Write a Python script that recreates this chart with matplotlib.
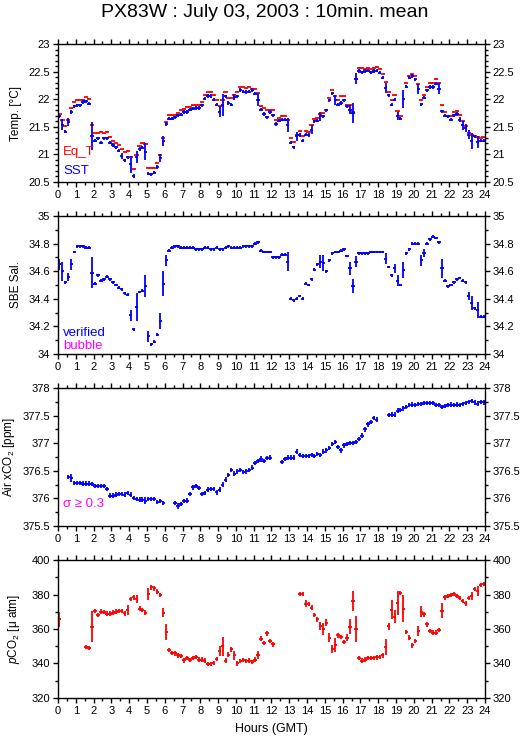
import numpy as np
import matplotlib
matplotlib.use('Agg')
import matplotlib.pyplot as plt
from matplotlib.ticker import MultipleLocator, FormatStrFormatter

plt.rcParams['font.family'] = ['Liberation Sans', 'DejaVu Sans']
plt.rcParams['mathtext.fontset'] = 'custom'
plt.rcParams['mathtext.rm'] = 'Liberation Sans'
plt.rcParams['mathtext.it'] = 'Liberation Sans:italic'

nan = np.nan

# 10 minute means, 144 bins over the day (GMT)
bin_minutes = 10

sst = [21.69, 21.54, 21.41, 21.59, 21.77, 21.87,
       21.89, 21.89, 21.95, 21.96, 21.92, 21.33,
       21.25, 21.29, 21.21, 21.29, 21.29, 21.21,
       21.17, 21.13, 21.07, 20.97, 20.89, 20.95,
       20.82, 20.61, 20.95, 21.10, 21.12, 21.05,
       20.65, 20.64, 20.67, 20.77, 20.94, 21.25,
       21.55, 21.65, 21.65, 21.67, 21.71, 21.72,
       21.77, 21.77, 21.81, 21.83, 21.84, 21.84,
       21.89, 22.01, 22.06, 22.06, 21.99, 21.90,
       21.77, 21.90, 22.05, 21.93, 21.90, 22.04,
       22.05, 22.17, 22.14, 22.13, 22.14, 22.17,
       22.10, 21.99, 21.81, 21.73, 21.67, 21.77,
       21.71, 21.55, 21.61, 21.63, 21.63, 21.53,
       21.21, 21.13, 21.33, 21.35, 21.25, 21.36,
       21.35, 21.45, 21.60, 21.61, 21.69, 21.69,
       21.80, 21.98, 22.11, 21.98, 21.90, 21.93,
       21.98, 21.87, 21.81, 21.75, 22.37, 22.51,
       22.49, 22.51, 22.52, 22.49, 22.51, 22.52,
       22.48, 22.39, 22.20, 22.07, 21.90, 21.99,
       21.69, 21.65, 22.01, 22.23, 22.39, 22.42,
       22.36, 22.19, 21.91, 22.03, 22.16, 22.22,
       22.22, 22.28, 22.19, 21.78, 21.70, 21.69,
       21.63, 21.71, 21.73, 21.63, 21.53, 21.48,
       21.36, 21.24, 21.33, 21.23, 21.25, 21.25]
sst_err = {1: 0.1, 3: 0.07, 11: 0.25, 21: 0.06, 24: 0.16, 26: 0.11, 29: 0.15,
           34: 0.07, 35: 0.09, 54: 0.1, 55: 0.2, 59: 0.05, 67: 0.12, 77: 0.13,
           80: 0.08, 85: 0.08, 88: 0.08, 93: 0.09, 98: 0.08, 99: 0.18, 100: 0.1,
           110: 0.09, 114: 0.07, 116: 0.16, 121: 0.09, 128: 0.1, 135: 0.05,
           136: 0.08, 137: 0.08, 138: 0.08, 139: 0.15, 141: 0.11}

eq_t = [21.73, 21.63, 21.51, 21.63, 21.84, 21.95,
        21.98, 21.98, 21.99, 22.04, 22.01, 21.53,
        21.39, 21.39, 21.41, 21.39, 21.41, 21.32,
        21.25, 21.21, 21.17, 21.09, 21.05, 21.07,
        20.95, 20.73, 20.99, 21.15, 21.20, 21.18,
        20.76, 20.76, 20.76, 20.85, 20.99, 21.30,
        21.59, 21.71, 21.71, 21.72, 21.75, 21.80,
        21.83, 21.86, 21.86, 21.89, 21.89, 21.89,
        21.95, 22.07, 22.13, 22.14, 22.07, 21.99,
        21.87, 21.99, 22.13, 22.02, 22.02, 22.07,
        22.14, 22.22, 22.22, 22.20, 22.22, 22.19,
        22.19, 22.11, 21.87, 21.84, 21.81, 21.81,
        21.80, 21.63, 21.66, 21.70, 21.70, 21.63,
        21.30, 21.23, 21.36, 21.42, 21.33, 21.42,
        21.41, 21.53, 21.64, 21.66, 21.74, 21.75,
        21.81, 22.02, 22.17, 22.05, 21.99, 22.05,
        22.05, 21.89, 21.89, 21.77, 22.37, 22.57,
        22.57, 22.55, 22.57, 22.55, 22.57, 22.58,
        22.55, 22.46, 22.31, 22.14, 21.98, 22.07,
        21.78, 21.70, nan, 22.30, 22.43, 22.46,
        22.42, 22.28, 21.99, 22.08, 22.22, 22.30,
        22.30, 22.36, 22.30, 21.89, 21.77, 21.69,
        21.69, 21.77, 21.78, 21.72, 21.61, 21.51,
        21.39, 21.35, 21.33, 21.31, 21.30, 21.31]
eq_t_err = {}

sal = [34.65, 34.60, 34.52, 34.56, 34.65, 34.74,
       34.78, 34.78, 34.78, 34.77, 34.77, 34.59,
       34.51, 34.57, 34.53, 34.54, 34.56, 34.54,
       34.52, 34.50, 34.48, 34.47, 34.44, 34.43,
       34.28, 34.18, 34.34, 34.45, 34.46, 34.49,
       34.13, 34.07, 34.09, 34.14, 34.24, 34.51,
       34.68, 34.75, 34.77, 34.78, 34.78, 34.77,
       34.77, 34.77, 34.77, 34.77, 34.76, 34.76,
       34.76, 34.77, 34.77, 34.76, 34.76, 34.77,
       34.76, 34.76, 34.77, 34.78, 34.77, 34.77,
       34.77, 34.77, 34.78, 34.78, 34.78, 34.78,
       34.80, 34.81, 34.75, 34.74, 34.74, 34.74,
       34.70, 34.70, 34.70, 34.72, 34.72, 34.67,
       34.40, 34.39, 34.40, 34.42, 34.40, 34.51,
       34.50, 34.54, 34.61, 34.65, 34.67, 34.66,
       34.60, 34.68, 34.73, 34.74, 34.74, 34.75,
       34.76, 34.71, 34.62, 34.49, 34.67, 34.73,
       34.73, 34.73, 34.73, 34.74, 34.74, 34.74,
       34.74, 34.74, 34.69, 34.63, 34.57, 34.62,
       34.53, 34.50, 34.61, 34.73, 34.76, 34.80,
       34.80, 34.80, 34.68, 34.73, 34.80, 34.83,
       34.85, 34.84, 34.81, 34.62, 34.53, 34.49,
       34.50, 34.52, 34.54, 34.55, 34.53, 34.52,
       34.42, 34.37, 34.33, 34.32, 34.27, 34.27]
sal_err = {0: 0.04, 1: 0.07, 3: 0.03, 4: 0.04, 11: 0.11, 24: 0.04, 26: 0.1,
           29: 0.08, 30: 0.04, 34: 0.06, 35: 0.09, 36: 0.04, 77: 0.07, 88: 0.05,
           89: 0.06, 98: 0.05, 99: 0.05, 100: 0.04, 110: 0.04, 113: 0.03,
           114: 0.04, 116: 0.06, 122: 0.04, 123: 0.03, 129: 0.07, 138: 0.03,
           139: 0.05, 141: 0.06}

xco2 = [nan, nan, nan, 376.39, 376.37, 376.28,
        376.28, 376.28, 376.27, 376.27, 376.27, 376.26,
        376.23, 376.23, 376.23, 376.22, 376.17, 376.05,
        376.05, 376.07, 376.08, 376.08, 376.07, 376.10,
        376.07, 376.01, 375.99, 375.98, 375.98, 375.96,
        375.99, 375.99, 375.99, 375.93, 375.95, 375.92,
        nan, nan, nan, 375.92, 375.86, 375.90,
        375.95, 375.96, 376.08, 376.20, 376.22, 376.19,
        376.08, 376.10, 376.16, 376.17, 376.17, 376.11,
        376.16, 376.25, 376.34, 376.42, 376.52, 376.45,
        376.49, 376.51, 376.48, 376.49, 376.52, 376.56,
        376.64, 376.68, 376.71, 376.68, 376.73, 376.74,
        nan, nan, nan, 376.66, 376.71, 376.74,
        376.74, 376.74, 376.85, 376.79, 376.77, 376.77,
        376.77, 376.79, 376.77, 376.81, 376.79, 376.85,
        376.87, 376.91, 376.99, 377.02, 376.93, 376.87,
        376.96, 376.99, 377.00, 377.00, 377.02, 377.08,
        377.14, 377.25, 377.34, 377.38, 377.46, 377.43,
        nan, nan, nan, 377.51, 377.52, 377.52,
        377.59, 377.60, 377.63, 377.66, 377.69, 377.70,
        377.69, 377.71, 377.71, 377.73, 377.73, 377.73,
        377.73, 377.69, 377.69, 377.66, 377.68, 377.69,
        377.70, 377.69, 377.70, 377.69, 377.71, 377.73,
        377.75, 377.77, 377.74, 377.72, 377.75, 377.74]
xco2_err = {4: 0.07, 29: 0.06, 40: 0.06, 68: 0.05}

pco2 = [365.6, nan, nan, nan, nan, nan,
        nan, nan, nan, 349.5, 349.1, 361.4,
        370.5, 368.0, 370.1, 369.9, 368.9, 368.9,
        369.5, 370.1, 370.5, 370.5, 369.1, 370.9,
        377.3, 378.3, 377.3, 371.8, 370.9, 369.5,
        380.2, 384.1, 383.5, 381.7, 379.6, 369.5,
        358.4, 347.8, 346.2, 345.8, 344.7, 344.3,
        341.9, 343.3, 341.9, 343.3, 343.7, 342.3,
        342.3, 341.6, 339.8, 339.8, 340.4, 342.7,
        347.2, 350.1, 341.7, 345.2, 348.2, 344.7,
        340.0, 341.4, 341.9, 341.4, 341.7, 340.8,
        342.3, 344.7, 354.4, 352.0, 357.5, 353.0,
        351.1, nan, nan, nan, nan, nan,
        nan, nan, nan, 380.2, 380.2, 374.6,
        374.4, 372.4, 368.0, 365.6, 361.7, 359.8,
        363.7, 355.0, 348.5, 350.5, 356.3, 355.5,
        352.4, 355.0, 361.4, 376.3, 360.2, 343.3,
        341.7, 342.3, 343.3, 343.3, 343.3, 343.5,
        343.9, 344.7, 349.5, 361.7, 371.1, 367.2,
        375.0, 381.0, 371.8, 358.3, 355.0, 350.5,
        353.0, 358.8, 370.1, 368.5, 362.7, 358.8,
        357.9, 357.9, 359.4, 370.5, 378.3, 379.2,
        379.8, 380.2, 379.2, 377.9, 376.3, 374.8,
        377.9, 379.2, 383.1, 382.1, 385.4, 386.2]
pco2_err = {0: 4.5, 11: 9, 23: 3, 26: 2.5, 30: 3.5, 35: 2.5, 36: 4.5, 42: 1.5,
            54: 3, 55: 5.5, 59: 2.5, 67: 2.3, 83: 2, 88: 2.5, 89: 3.5, 90: 2,
            91: 2.7, 92: 2.2, 93: 4, 97: 2, 98: 4.5, 99: 6, 100: 7.5, 110: 4.5,
            111: 2, 112: 5.5, 113: 4, 114: 7, 116: 8, 121: 3, 122: 3, 129: 4.3,
            139: 2.3, 141: 2.7}

hours = (np.arange(len(sst)) + 0.5) * bin_minutes / 60.0
half_bin = bin_minutes / 120.0


def std_array(values, big, small):
    err = np.full(len(values), small)
    for k, v in big.items():
        err[k] = v
    return err


def draw(ax, values, err, color, small, xerr=half_bin * 1.15):
    ax.errorbar(hours, values, yerr=std_array(values, err, small), xerr=xerr,
                fmt='none', ecolor=color, elinewidth=1.3, capsize=0)


def style_axis(ax, ylim, major, minor, ylabel):
    ax.set_xlim(0, 24)
    ax.set_ylim(*ylim)
    ax.xaxis.set_major_locator(MultipleLocator(1))
    ax.xaxis.set_minor_locator(MultipleLocator(0.5))
    ax.yaxis.set_major_locator(MultipleLocator(major))
    ax.yaxis.set_minor_locator(MultipleLocator(minor))
    ax.xaxis.set_major_formatter(FormatStrFormatter('%g'))
    ax.yaxis.set_major_formatter(FormatStrFormatter('%g'))
    ax.tick_params(which='both', direction='out', top=True, right=True,
                   labelright=True, labelsize=8, width=1, pad=2)
    ax.tick_params(which='major', length=3.5)
    ax.tick_params(which='minor', length=2)
    for s in ax.spines.values():
        s.set_linewidth(1)
    ax.set_ylabel(ylabel, fontsize=8.5)
    ax.yaxis.set_label_coords(-0.085, 0.5)


fig = plt.figure(figsize=(5.29, 7.39), dpi=100)
left, width, height = 0.1096, 0.8072, 0.1867
bottoms = [0.7537, 0.5210, 0.2882, 0.0555]
axes = [fig.add_axes([left, b, width, height]) for b in bottoms]

# Temperature
ax = axes[0]
draw(ax, eq_t, eq_t_err, '#ff0000', 0.006, xerr=half_bin * 1.4)
draw(ax, sst, sst_err, '#0000ff', 0.03)
style_axis(ax, (20.5, 23), 0.5, 0.1, 'Temp. [°C]')
ax.text(0.012, 0.22, 'Eq_T', color='#ff0000', fontsize=9.5, transform=ax.transAxes, va='center')
ax.text(0.012, 0.08, 'SST', color='#0000ff', fontsize=9.5, transform=ax.transAxes, va='center')

# Salinity
ax = axes[1]
draw(ax, sal, sal_err, '#0000ff', 0.01)
style_axis(ax, (34, 35), 0.2, 0.1, 'SBE Sal.')
ax.text(0.012, 0.15, 'verified', color='#0000ff', fontsize=9.5, transform=ax.transAxes, va='center')
ax.text(0.012, 0.055, 'bubble', color='#ff00ff', fontsize=9.5, transform=ax.transAxes, va='center')

# Air xCO2
ax = axes[2]
draw(ax, xco2, xco2_err, '#0000ff', 0.04)
style_axis(ax, (375.5, 378), 0.5, 0.25, 'Air xCO$_2$ [ppm]')
ax.yaxis.set_label_coords(-0.095, 0.5)
ax.text(0.012, 0.16, 'σ ≥ 0.3', color='#ff00ff', fontsize=9.5, transform=ax.transAxes, va='center')

# pCO2
ax = axes[3]
draw(ax, pco2, pco2_err, '#ff0000', 1.3)
style_axis(ax, (320, 400), 20, 10, '$p$CO$_2$ [μ atm]')
ax.set_xlabel('Hours (GMT)', fontsize=9, labelpad=5)

fig.suptitle('PX83W : July 03, 2003 : 10min. mean', fontsize=14, y=0.995, va='top')

fig.savefig('out.png', dpi=100)
